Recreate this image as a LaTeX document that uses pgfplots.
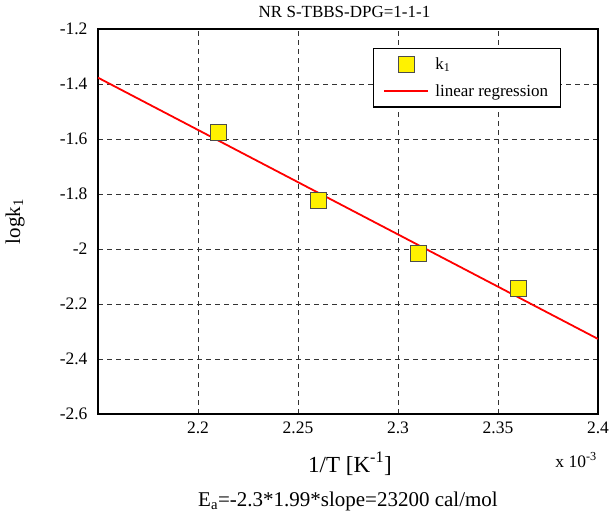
\documentclass[border=0pt]{standalone}
\usepackage{pgfplots}
\pgfplotsset{compat=1.18}
\usepackage{fontspec}
\setmainfont{Liberation Serif}
\begin{document}
\begin{tikzpicture}
\path[use as bounding box] (-98pt,-101pt) rectangle (511pt,414pt);
\begin{axis}[
  scale only axis, width=500pt, height=385pt,
  xmin=2.15, xmax=2.4, ymin=-2.6, ymax=-1.2,
  xtick={2.2,2.25,2.3,2.35,2.4},
  ytick={-2.6,-2.4,-2.2,-2,-1.8,-1.6,-1.4,-1.2},
  yticklabels={-2.6,-2.4,-2.2,-2,-1.8,-1.6,-1.4,-1.2},
  xticklabels={2.2,2.25,2.3,2.35,2.4},
  /pgf/number format/assume math mode=true,
  major tick length=0pt,
  grid=major,
  major grid style={black!80, line width=0.9pt, dash pattern=on 5pt off 4pt},
  axis line style={black, line width=1.2pt},
  ticklabel style={font=\fontsize{17.5}{20}\selectfont},
  yticklabel style={xshift=-7pt},
  xticklabel style={yshift=-4pt},
  legend image code/.code={\draw[mark repeat=2,mark phase=2,#1] plot coordinates {(0pt,0pt) (22pt,0pt) (44pt,0pt)};},
  legend style={at={(0.55,0.951)}, anchor=north west, draw=black, line width=1.1pt,
    font=\fontsize{17}{19}\selectfont, inner xsep=10pt, inner ysep=7pt,
    row sep=10pt, column sep=4pt, legend cell align=left},
]
\addplot[only marks, mark=square*, mark size=8pt,
  mark options={fill=yellow, draw=black!70, line width=0.8pt}]
  coordinates {(2.21,-1.575) (2.26,-1.825) (2.31,-2.015) (2.36,-2.145)};
\addlegendentry{k\textsubscript{1}}
\addplot[red, line width=1.8pt] coordinates {(2.15,-1.377) (2.4,-2.327)};
\addlegendentry{linear regression}
\end{axis}
\node[anchor=base, font=\fontsize{17}{20}\selectfont] at (246.5pt,396pt) {NR S-TBBS-DPG=1-1-1};
\node[anchor=base, font=\fontsize{23}{26}\selectfont] at (252pt,-58pt) {1/T [K\textsuperscript{-1}]};
\node[anchor=base east, font=\fontsize{17.5}{20}\selectfont, inner sep=0pt] at (499pt,-53pt) {x 10\textsuperscript{-3}};
\node[anchor=base, font=\fontsize{21}{24}\selectfont] at (250pt,-92pt) {E\textsubscript{a}=-2.3*1.99*slope=23200 cal/mol};
\node[rotate=90, anchor=center, font=\fontsize{21}{24}\selectfont] at (-83pt,192.5pt) {logk\textsubscript{1}};
\end{tikzpicture}
\end{document}
